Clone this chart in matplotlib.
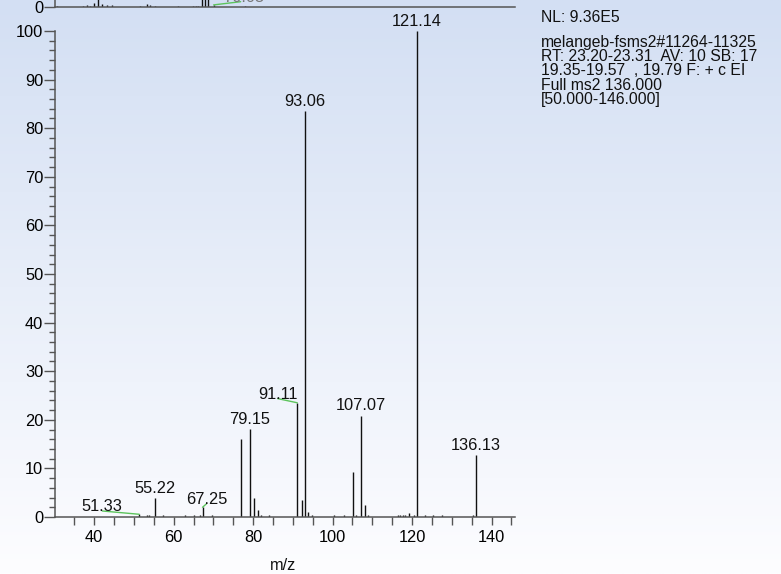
import numpy as np
import matplotlib
matplotlib.use("Agg")
import matplotlib.pyplot as plt
from matplotlib.ticker import MultipleLocator, FixedLocator

plt.rcParams['font.family'] = ['Liberation Sans', 'DejaVu Sans']

# ---- main MS2 spectrum: m/z and relative abundance (%) ----
mz = [51.33, 53.2, 53.8, 55.22, 57.3, 62.9, 65.1, 66.65, 67.25, 69.67,
      77.05, 79.15, 80.3, 81.2, 82.0, 83.95, 91.11, 92.27, 93.06, 93.85,
      94.86, 100.33, 102.9, 105.2, 105.9, 107.07, 108.1, 109.0, 116.45,
      117.0, 117.6, 118.1, 119.1, 120.4, 121.14, 123.25, 125.3, 127.5,
      135.3, 136.13]
intensity = [0.56, 0.4, 0.4, 3.85, 0.4, 0.4, 0.5, 0.4, 2.0, 0.4,
             16.0, 18.1, 3.85, 1.4, 0.5, 0.4, 23.5, 3.6, 83.5, 1.0,
             0.4, 0.4, 0.5, 9.3, 0.4, 20.8, 2.5, 0.4, 0.4,
             0.4, 0.4, 0.4, 0.8, 0.4, 100.0, 0.4, 0.4, 0.4,
             0.4, 12.7]
labelled = ["51.33", "55.22", "67.25", "79.15", "91.11", "93.06",
            "107.07", "121.14", "136.13"]

# ---- preceding spectrum, only its baseline region is in view ----
prev_mz = [30.7, 37.25, 38.1, 38.95, 39.95, 40.9, 41.9, 43.15, 44.4, 51.55,
           53.4, 54.05, 55.3, 61.2, 64.95, 65.65, 66.2, 67.1, 67.9, 68.6,
           70.05, 78.0]
prev_intensity = [0.3, 0.4, 0.6, 0.4, 1.1, 3.0, 0.9, 0.6, 0.6, 0.3,
                  0.9, 0.6, 0.4, 0.3, 0.3, 0.4, 0.4, 3.0, 3.0, 3.0,
                  0.6, 0.4]
prev_labelled = ["70.05"]

header_lines = ["NL: 9.36E5",
                "melangeb-fsms2#11264-11325",
                "RT: 23.20-23.31  AV: 10 SB: 17",
                "19.35-19.57  , 19.79 F: + c EI",
                "Full ms2 136.000",
                "[50.000-146.000]"]

W, H = 781, 574
PX = 72.0 / 100.0          # points per pixel
axis_col = '#555555'
bar_col = '#111111'
green = '#5cc45c'
fs = 11.8

fig = plt.figure(figsize=(W / 100, H / 100), dpi=100)

# vertical blue-to-white backdrop
bg = fig.add_axes([0, 0, 1, 1], zorder=-10)
c_top = np.array([211, 223, 243]) / 255.0
c_bot = np.array([253, 253, 255]) / 255.0
t = np.linspace(0, 1, 300)[:, None]
grad = c_top * (1 - t) + c_bot * t
bg.imshow(np.repeat(grad[:, None, :], 4, axis=1), aspect='auto',
          extent=[0, 1, 0, 1], origin='upper', interpolation='bilinear')
bg.axis('off')

xlim = (30.2, 145.9)
left, right = 55.3 / W, 515.0 / W

# ---- main axes ----
ax = fig.add_axes([left, 1 - 517 / H, right - left, (517 - 31) / H])
ax.set_facecolor('none')
ax.vlines(mz, 0, intensity, color=bar_col, lw=1.0)
ax.set_xlim(*xlim)
ax.set_ylim(0, 100)
for s in ('top', 'right'):
    ax.spines[s].set_visible(False)
for s in ('left', 'bottom'):
    ax.spines[s].set_color(axis_col)
    ax.spines[s].set_linewidth(1.1)
ax.xaxis.set_major_locator(MultipleLocator(20))
ax.xaxis.set_minor_locator(MultipleLocator(5))
ax.yaxis.set_major_locator(MultipleLocator(10))
ax.yaxis.set_minor_locator(MultipleLocator(2))
ax.tick_params(axis='x', which='both', direction='out', color=axis_col,
               width=1.0, labelsize=fs, pad=3.0)
ax.tick_params(axis='x', which='major', length=6)
ax.tick_params(axis='x', which='minor', length=5.5)
ax.tick_params(axis='y', which='major', direction='out', length=7.9,
               color=axis_col, width=1.0, labelsize=fs, pad=0.8)
ax.tick_params(axis='y', which='minor', direction='out', length=4.1,
               color=axis_col, width=1.0)

# label offsets in pixels (dx, dy above peak top); connectors where shifted
offsets = {"51.33": (-37, 3.3), "67.25": (4, 3.5), "91.11": (-19.7, 4.2)}
for xv, yv in zip(mz, intensity):
    lab = f"{xv:.2f}"
    if lab not in labelled:
        continue
    dx, dy = offsets.get(lab, (0, 5.5))
    if dx != 0:
        ax.annotate("", xy=(xv, yv), xytext=(dx * PX, dy * PX),
                    textcoords='offset points',
                    arrowprops=dict(arrowstyle='-', color=green, lw=1.0,
                                    shrinkA=0, shrinkB=0))
    ax.annotate(lab, xy=(xv, yv), xytext=(dx * PX, dy * PX),
                textcoords='offset points', ha='center', va='baseline',
                fontsize=fs, color='#111111', annotation_clip=False)

fig.text(283 / W, 1 - 565 / H, "m/z", ha='center', va='center',
         fontsize=fs, color='#111111')

# ---- strip of the preceding spectrum at the top edge ----
ax2 = fig.add_axes([left, 1 - 7 / H, right - left, 7 / H])
ax2.set_facecolor('none')
ax2.vlines(prev_mz, 0, prev_intensity, color=bar_col, lw=1.0)
ax2.set_xlim(*xlim)
ax2.set_ylim(0, 2)
for s in ('top', 'right'):
    ax2.spines[s].set_visible(False)
for s in ('left', 'bottom'):
    ax2.spines[s].set_color(axis_col)
    ax2.spines[s].set_linewidth(1.1)
ax2.set_xticks([])
ax2.yaxis.set_major_locator(FixedLocator([0]))
ax2.tick_params(axis='y', which='major', direction='out', length=7.9,
                color=axis_col, width=1.0, labelsize=fs, pad=0.8)
for xv, yv in zip(prev_mz, prev_intensity):
    lab = f"{xv:.2f}"
    if lab not in prev_labelled:
        continue
    ax2.annotate("", xy=(xv, yv), xytext=(27 * PX, 3.2 * PX),
                 textcoords='offset points',
                 arrowprops=dict(arrowstyle='-', color=green, lw=1.0,
                                 shrinkA=0, shrinkB=0))
    ax2.annotate(lab, xy=(xv, yv), xytext=(30 * PX, 3.4 * PX),
                 textcoords='offset points', ha='center', va='baseline',
                 fontsize=fs, color='#777777', annotation_clip=False)

# ---- scan header ----
baselines = [21.5, 47.0, 61.2, 75.4, 89.6, 103.8]
for line, yb in zip(header_lines, baselines):
    fig.text(541 / W, 1 - yb / H, line, ha='left', va='baseline',
             fontsize=11.3, color='#111111')

fig.savefig("out.png", dpi=100)
